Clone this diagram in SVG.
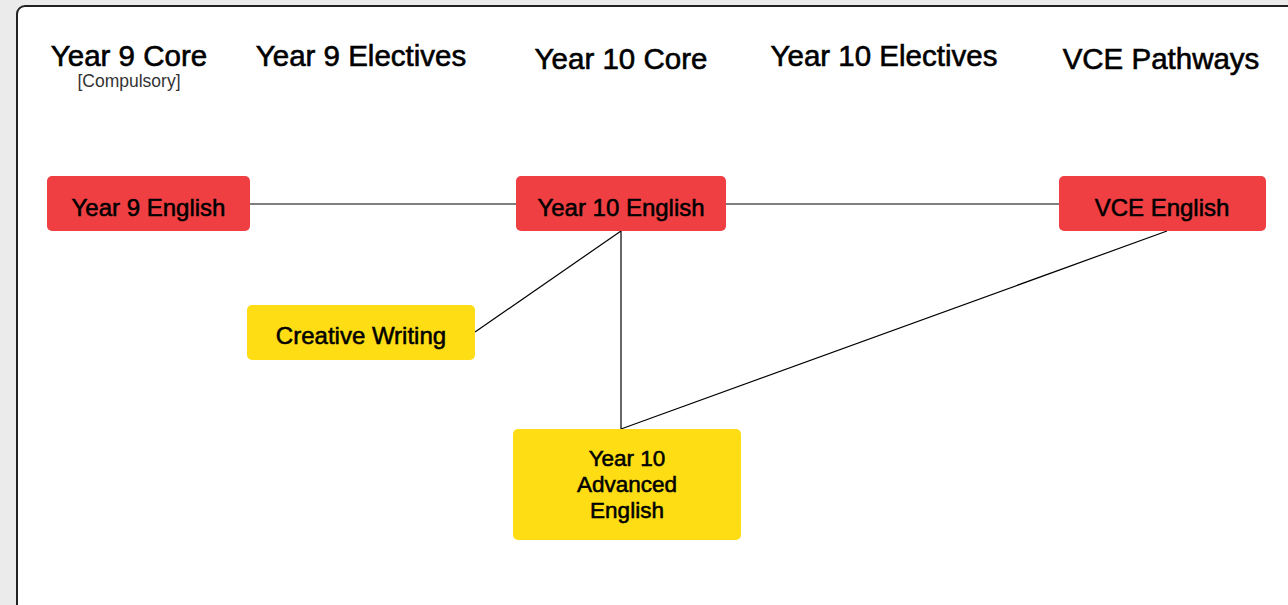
<svg xmlns="http://www.w3.org/2000/svg" width="1288" height="605" viewBox="0 0 1288 605">
<style>
.hdr{font-family:"Liberation Sans",Arial,sans-serif;font-size:29.5px;fill:#000;text-anchor:middle;stroke:#000;stroke-width:0.6}
.sub{font-family:"Liberation Sans",Arial,sans-serif;font-size:17.5px;fill:#333;text-anchor:middle}
.lbl{font-family:"Liberation Sans",Arial,sans-serif;font-size:24px;fill:#000;text-anchor:middle;stroke:#000;stroke-width:0.55}
.lbl2{font-size:22.5px}
.red{fill:#ef3f43}
.yel{fill:#fedd15}
.conn line{stroke:#000;stroke-width:1.2}
</style>
<rect x="0" y="0" width="1288" height="605" fill="#ebebeb"/>
<rect x="17" y="6" width="1300" height="640" rx="8" fill="#fff" stroke="#222" stroke-width="2"/>
<g id="headers">
<text class="hdr" x="129" y="66">Year 9 Core</text>
<text class="sub" x="129" y="87">[Compulsory]</text>
<text class="hdr" x="361" y="66">Year 9 Electives</text>
<text class="hdr" x="621" y="69">Year 10 Core</text>
<text class="hdr" x="884" y="66">Year 10 Electives</text>
<text class="hdr" x="1161" y="69">VCE Pathways</text>
</g>
<g id="connectors" class="conn">
<line x1="250" y1="204" x2="516" y2="204"/>
<line x1="726" y1="204" x2="1059" y2="204"/>
<line x1="621" y1="231" x2="475" y2="332"/>
<line x1="621" y1="231" x2="621" y2="429"/>
<line x1="1167" y1="231" x2="621" y2="429"/>
</g>
<g id="year9-english">
<rect class="red" x="47" y="176" width="203" height="55" rx="5"/>
<text class="lbl" x="148.5" y="216">Year 9 English</text>
</g>
<g id="year10-english">
<rect class="red" x="516" y="176" width="210" height="55" rx="5"/>
<text class="lbl" x="621" y="216">Year 10 English</text>
</g>
<g id="vce-english">
<rect class="red" x="1059" y="176" width="207" height="55" rx="5"/>
<text class="lbl" x="1162" y="216">VCE English</text>
</g>
<g id="creative-writing">
<rect class="yel" x="247" y="305" width="228" height="55" rx="5"/>
<text class="lbl" x="361" y="344">Creative Writing</text>
</g>
<g id="year10-advanced-english">
<rect class="yel" x="513" y="429" width="228" height="111" rx="5"/>
<text class="lbl lbl2" x="627" y="466">Year 10</text>
<text class="lbl lbl2" x="627" y="492">Advanced</text>
<text class="lbl lbl2" x="627" y="518">English</text>
</g>
</svg>
